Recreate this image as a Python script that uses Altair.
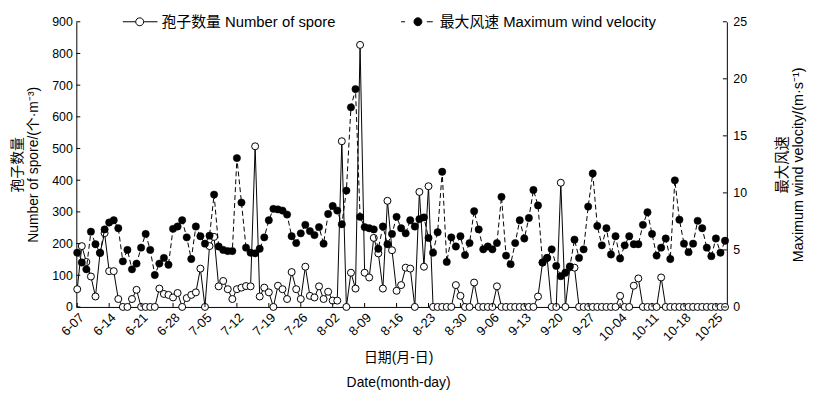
import altair as alt
import pandas as pd

# ---------------- data ----------------
tick_labels = ["6-07", "6-14", "6-21", "6-28", "7-05", "7-12", "7-19", "7-26",
               "8-02", "8-09", "8-16", "8-23", "8-30", "9-06", "9-13", "9-20",
               "9-27", "10-04", "10-11", "10-18", "10-25"]
day_ticks = list(range(0, 141, 7))

spore = [56, 192, 142, 96, 33, 170, 233, 113, 113, 25,
         0, 0, 25, 54, 0, 0, 0, 0, 58, 41,
         38, 30, 44, 0, 28, 38, 46, 121, 0, 192,
         221, 65, 82, 56, 25, 56, 61, 66, 65, 507,
         33, 61, 46, 0, 67, 56, 25, 110, 56, 25,
         127, 35, 30, 65, 25, 48, 20, 20, 523, 0,
         108, 58, 827, 108, 93, 218, 169, 58, 335, 179,
         51, 69, 124, 121, 0, 363, 127, 381, 0, 0,
         0, 0, 0, 69, 35, 0, 0, 77, 0, 0,
         0, 0, 65, 0, 0, 0, 0, 0, 0, 0,
         0, 33, 140, 155, 0, 0, 392, 0, 125, 124,
         0, 0, 0, 0, 0, 0, 0, 0, 0, 35,
         0, 0, 67, 90, 0, 0, 0, 0, 93, 0,
         0, 0, 0, 0, 0, 0, 0, 0, 0, 0,
         0, 0, 0]

wind = [4.75, 3.9, 3.3, 6.6, 5.5, 4.75, 6.8, 7.4, 7.6, 6.9,
        4.0, 5.0, 3.3, 3.8, 5.2, 6.4, 5.0, 2.8, 3.8, 4.3,
        3.7, 6.85, 7.05, 7.6, 6.1, 4.2, 7.05, 6.2, 5.55, 6.25,
        9.85, 5.3, 5.0, 4.9, 4.9, 13.05, 9.15, 5.2, 4.75, 4.7,
        5.1, 6.1, 7.6, 8.6, 8.55, 8.45, 8.1, 6.2, 5.6, 6.45,
        7.2, 6.65, 6.3, 7.0, 5.55, 8.15, 8.85, 8.45, 7.25, 10.2,
        17.5, 19.1, 7.9, 7.0, 6.9, 6.8, 5.1, 7.05, 5.5, 6.4,
        7.9, 6.9, 6.45, 7.6, 7.05, 7.7, 7.85, 6.05, 4.75, 6.55,
        11.85, 3.95, 6.1, 5.3, 6.2, 4.55, 5.6, 8.4, 6.8, 5.05,
        5.3, 5.05, 5.6, 9.65, 4.5, 3.75, 5.6, 7.6, 6.0, 7.8,
        10.25, 8.9, 3.9, 4.3, 5.05, 3.6, 2.7, 3.0, 3.55, 5.9,
        4.3, 5.05, 8.8, 11.7, 7.1, 5.4, 6.9, 4.6, 6.2, 4.25,
        5.4, 6.2, 5.5, 5.5, 7.2, 8.3, 6.4, 4.5, 5.2, 6.0,
        4.2, 11.1, 7.65, 5.55, 4.8, 5.55, 7.55, 6.9, 5.2, 4.45,
        6.0, 4.75, 5.8]

spore_ticks = [0, 100, 200, 300, 400, 500, 600, 700, 800, 900]
wind_ticks = [0, 5, 10, 15, 20, 25]

spore_name = "孢子数量 Number of spore"
wind_name = "最大风速 Maximum wind velocity"

# ---------------- style ----------------
FONT = "Liberation Sans, Noto Sans CJK SC, sans-serif"
W, H = 657, 288

df = pd.DataFrame({"day": list(range(len(spore))), "spore": spore, "wind": wind,
                   "s1": spore_name, "s2": wind_name})

label_expr = "[" + ",".join("'%s'" % t for t in tick_labels) + "][round(datum.value / 7)]"

x_axis = alt.Axis(values=day_ticks, labelExpr=label_expr, labelAngle=-45,
                  labelAlign="right", labelBaseline="top", labelPadding=4,
                  labelFontSize=13, labelFont=FONT, labelColor="black",
                  labelOverlap=False, labelFlush=False,
                  ticks=False, grid=False, domainColor="black", domainWidth=1,
                  title=["日期(月-日)", "Date(month-day)"], titleFont=FONT,
                  titleFontSize=14, titleFontWeight="normal", titleColor="black",
                  titleX=325, titleY=51, titleAlign="center", titleBaseline="middle",
                  titleLineHeight=25, titleAngle=0)
X = alt.X("day:Q", scale=alt.Scale(domain=[-0.2, 142.4], nice=False, zero=False), axis=x_axis)

left_axis = alt.Axis(values=spore_ticks, ticks=False, grid=False, domainColor="black",
                     domainWidth=1, labelFontSize=12.5, labelFont=FONT, labelColor="black",
                     labelPadding=4, orient="left",
                     title=["孢子数量", "Number of spore/(个·m⁻³)"], titleFont=FONT,
                     titleFontSize=14, titleFontWeight="normal", titleColor="black",
                     titleAngle=-90, titleX=-59, titleY=H / 2, titleAlign="center",
                     titleBaseline="middle", titleLineHeight=16)
right_axis = alt.Axis(values=wind_ticks, ticks=False, grid=False, domainColor="black",
                      domainWidth=1, labelFontSize=12.5, labelFont=FONT, labelColor="black",
                      labelPadding=6, orient="right",
                      title=["最大风速", "Maximum wind velocity/(m·s⁻¹)"], titleFont=FONT,
                      titleFontSize=14.5, titleFontWeight="normal", titleColor="black",
                      titleAngle=-90, titleX=56.5, titleY=H / 2, titleAlign="center",
                      titleBaseline="middle", titleLineHeight=15.5)

sp_y = alt.Y("spore:Q", scale=alt.Scale(domain=[0, 900], nice=False), axis=left_axis)
wd_y = alt.Y("wind:Q", scale=alt.Scale(domain=[0, 25], nice=False), axis=right_axis)

path_sp = "M-4.25,0L-1,0M1,0L4.5,0M1,0A1,1,0,1,1,-1,0A1,1,0,1,1,1,0Z"
path_wd = "M-4.25,0L-3.25,0M2.25,0L3.75,0M1,0A1,1,0,1,1,-1,0A1,1,0,1,1,1,0Z"

def legend(path, lx):
    return alt.Legend(orient="none", legendX=lx, legendY=-7.5, title=None,
                      symbolType=path, symbolSize=64, symbolStrokeColor="black",
                      symbolStrokeWidth=1, labelFont=FONT, labelFontSize=15,
                      labelColor="black", labelOffset=14.5, labelLimit=500, padding=0)

sp_line = alt.Chart(df).mark_line(color="black", strokeWidth=1).encode(x=X, y=sp_y)
sp_pts = alt.Chart(df).mark_point(filled=True, size=50, stroke="black", strokeWidth=1,
                                  opacity=1).encode(
    x=X, y=sp_y,
    fill=alt.Fill("s1:N", scale=alt.Scale(domain=[spore_name], range=["white"]),
                  legend=legend(path_sp, 56.5)))
sp_ticks = alt.Chart(pd.DataFrame({"spore": spore_ticks})).mark_rule(
    color="black", strokeWidth=1).encode(y=sp_y, x=alt.value(0), x2=alt.value(4))
x_ticks = alt.Chart(pd.DataFrame({"day": day_ticks})).mark_rule(
    color="black", strokeWidth=1).encode(x=X, y=alt.value(H), y2=alt.value(H - 4))

wd_line = alt.Chart(df).mark_line(color="black", strokeWidth=1,
                                  strokeDash=[5, 3]).encode(x=X, y=wd_y)
wd_pts = alt.Chart(df).mark_point(filled=True, size=55, stroke="black", strokeWidth=0.5,
                                  opacity=1).encode(
    x=X, y=wd_y,
    fill=alt.Fill("s2:N", scale=alt.Scale(domain=[wind_name], range=["black"]),
                  legend=legend(path_wd, 337.5)))
wd_ticks = alt.Chart(pd.DataFrame({"wind": wind_ticks})).mark_rule(
    color="black", strokeWidth=1).encode(y=wd_y, x=alt.value(W), x2=alt.value(W - 4))

spore_layer = alt.layer(sp_line, sp_pts, sp_ticks, x_ticks)
wind_layer = alt.layer(wd_line, wd_pts, wd_ticks)

chart = alt.layer(spore_layer, wind_layer).resolve_scale(
    y="independent", fill="independent").resolve_legend(fill="independent").properties(
    width=W, height=H,
    autosize=alt.AutoSizeParams(type="none"),
    padding={"left": 69, "top": 12, "right": 87, "bottom": 86},
    background="white",
).configure_view(stroke=None)

chart.save("out.html", embed_options={"renderer": "svg", "actions": False})
